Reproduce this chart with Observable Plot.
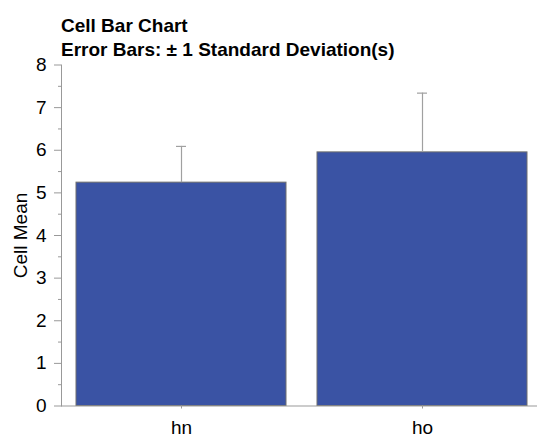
<!DOCTYPE html>
<html>
<head>
<meta charset="utf-8">
<script src="https://cdn.jsdelivr.net/npm/d3@7"></script>
<script src="https://cdn.jsdelivr.net/npm/@observablehq/plot@0.6"></script>
<style>
  body { margin: 0; background: #fff; }
  #wrap { width: 537px; font-family: "Liberation Sans", Arial, sans-serif; }
  #title { height: 50px; box-sizing: border-box; padding: 14px 0 0 61px; font-weight: bold; font-size: 19px; line-height: 24px; color: #000; white-space: nowrap; }
  svg { display: block; }
</style>
</head>
<body>
<div id="wrap">
  <div id="title">Cell Bar Chart<br>Error Bars: ± 1 Standard Deviation(s)</div>
  <div id="chart"></div>
</div>
<script>
const categories = ["hn", "ho"];
const means = [5.24, 5.95];
const sds = [0.85, 1.39];
const yMajorTicks = [0, 1, 2, 3, 4, 5, 6, 7, 8];
const yMinorTicks = [0.5, 1.5, 2.5, 3.5, 4.5, 5.5, 6.5, 7.5];

const data = categories.map((c, i) => ({cat: c, mean: means[i], sd: sds[i]}));

const fontFamily = "Liberation Sans, Arial, sans-serif";
const chart = Plot.plot({
  width: 537,
  height: 387,
  marginLeft: 61,
  marginRight: 0,
  marginTop: 14.5,
  marginBottom: 31.5,
  style: {fontFamily, fontSize: "19px", color: "#000", background: "#fff"},
  x: {domain: categories, range: [60.5, 542.5], paddingInner: 0.129, paddingOuter: 0.0645},
  y: {domain: [0, 8]},
  marks: [
    Plot.barY(data, {x: "cat", y: "mean", fill: "#3a53a4", stroke: "#6f6f6f", strokeWidth: 1}),
    Plot.ruleX(data, {x: "cat", y1: "mean", y2: d => d.mean + d.sd, stroke: "#a0a0a0", strokeWidth: 1.2}),
    Plot.tickY(data, {x: "cat", y: d => d.mean + d.sd, stroke: "#a0a0a0", strokeWidth: 1.2, insetLeft: 100, insetRight: 100}),
    Plot.ruleY([0], {stroke: "#999"}),
    Plot.frame({anchor: "left", stroke: "#999"}),
    Plot.axisY({ticks: yMinorTicks, tickSize: 3, text: null, stroke: "#999", label: null}),
    Plot.axisY({ticks: yMajorTicks, tickSize: 7, tickPadding: 8, stroke: "#999", fill: "#000", label: null}),
    Plot.axisX({tickSize: 3, tickPadding: 11.5, stroke: "#999", fill: "#000", label: null}),
    Plot.text(["Cell Mean"], {frameAnchor: "left", textAnchor: "middle", rotate: -90, dx: -41, text: d => d, fontSize: 19, fill: "#000"})
  ]
});
document.getElementById("chart").appendChild(chart);
</script>
</body>
</html>
